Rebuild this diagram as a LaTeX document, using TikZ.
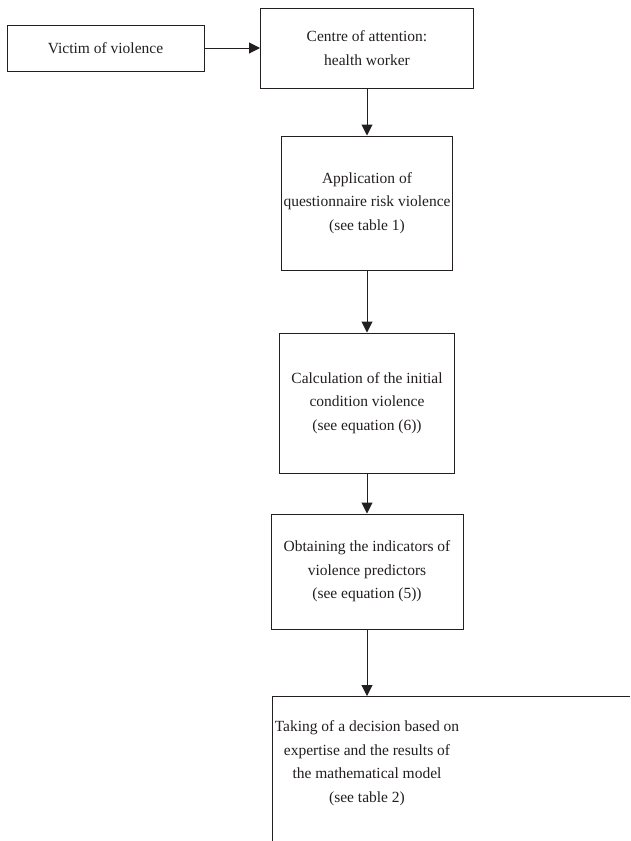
\documentclass[tikz,border=0pt]{standalone}
\usepackage{fontspec}
\setmainfont{Liberation Serif}
\usetikzlibrary{arrows.meta}
\definecolor{ink}{HTML}{231F20}
\begin{document}
\begin{tikzpicture}[x=1pt,y=-1pt,
  boxnode/.style={draw=ink, line width=1pt, align=center, text=ink,
    font=\fontsize{15.5}{23.5}\selectfont, inner sep=0pt},
  txt/.style={align=center, text=ink, font=\fontsize{15.5}{23.5}\selectfont, inner sep=0pt},
  conn/.style={draw=ink, line width=1pt, -{Triangle[length=11pt,width=11pt]}}]
\useasboundingbox[fill=white] (0,0) rectangle (630,841);
\node[boxnode, minimum width=197pt, minimum height=46pt] (victim) at (105.5,48) {Victim of violence};
\node[boxnode, minimum width=213pt, minimum height=80pt] (centre) at (367,48) {Centre of attention:\\health worker};
\node[boxnode, minimum width=171pt, minimum height=134pt] (app) at (367,203) {Application of\\questionnaire risk violence\\(see table 1)};
\node[boxnode, minimum width=175pt, minimum height=140pt] (calc) at (367,403) {Calculation of the initial\\condition violence\\(see equation (6))};
\node[boxnode, minimum width=192pt, minimum height=115pt] (obt) at (367,571.5) {Obtaining the indicators of\\violence predictors\\(see equation (5))};
\coordinate (dtop) at (367,696);
\node[txt] (dec) at (367,763) {Taking of a decision based on\\expertise and the results of\\the mathematical model\\(see table 2)};
\draw[draw=ink, line width=1pt] (630,696) -- (272,696) -- (272,841);
\draw[conn] (victim) -- (centre);
\draw[conn] (centre) -- (app);
\draw[conn] (app) -- (calc);
\draw[conn] (calc) -- (obt);
\draw[conn] (obt) -- (dtop);
\end{tikzpicture}
\end{document}
